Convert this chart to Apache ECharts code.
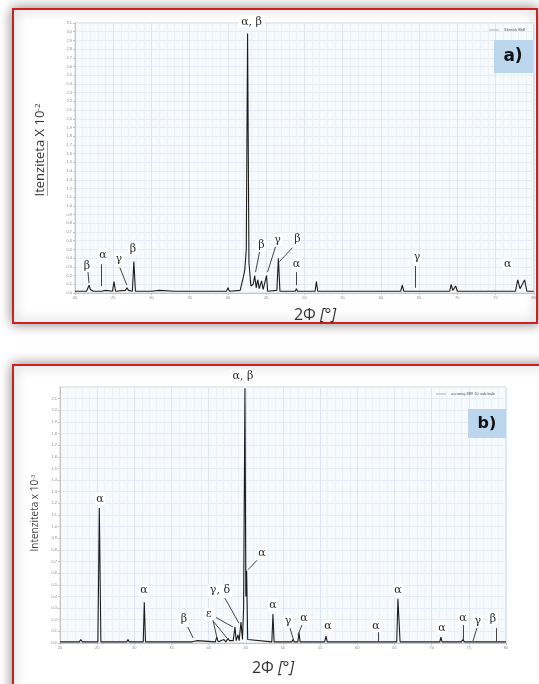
<!DOCTYPE html>
<html><head><meta charset="utf-8">
<script src="https://cdn.jsdelivr.net/npm/echarts/dist/echarts.min.js"></script>
<style>html,body{margin:0;padding:0;background:#fff}#c{width:539px;height:684px}</style>
</head><body><div id="c"></div>
<script>
// ---- Panel a: pattern (2θ, intensity x10^-2)
const patternA = [
 [20.0,0.02],[21.5,0.02],[21.7,0.02],[21.85,0.09],[22.0,0.04],[22.2,0.06],[22.4,0.02],
 [23.5,0.02],[24.0,0.03],[24.9,0.02],[25.1,0.13],[25.3,0.02],[26.6,0.03],[26.8,0.06],[27.0,0.03],
 [27.5,0.02],[27.7,0.36],[27.9,0.02],[30.0,0.02],[31.0,0.03],[33.0,0.02],[35.8,0.02],[35.9,0.04],
 [36.0,0.02],[38.0,0.02],[39.8,0.02],[40.0,0.06],[40.2,0.02],[41.6,0.03],[42.0,0.18],[42.2,0.26],
 [42.4,0.5],[42.57,2.98],[42.75,0.35],[43.0,0.08],[43.3,0.1],[43.5,0.2],[43.7,0.06],[43.9,0.15],
 [44.1,0.05],[44.4,0.14],[44.6,0.04],[45.05,0.2],[45.2,0.02],[46.4,0.03],[46.6,0.4],[46.8,0.02],
 [48.8,0.02],[48.96,0.05],[49.1,0.02],[51.4,0.02],[51.57,0.13],[51.75,0.02],[55.0,0.02],[58.0,0.02],
 [62.6,0.02],[62.8,0.09],[63.0,0.02],[64.4,0.02],[64.5,0.04],[64.7,0.02],[69.0,0.02],[69.2,0.1],
 [69.4,0.03],[69.8,0.08],[70.0,0.02],[74.0,0.02],[77.6,0.02],[77.9,0.15],[78.2,0.05],[78.8,0.15],
 [79.1,0.02],[80.0,0.02]
];
// phase labels: [text, 2θ, intensity]
const labelsA = [
 ['β',21.57,0.31],['α',23.65,0.44],['γ',25.74,0.39],['β',27.57,0.505],
 ['β',44.39,0.55],['γ',46.48,0.61],['β',49.09,0.62],['α',48.96,0.33],
 ['γ',64.74,0.41],['α',76.6,0.33]
];
const topLabelA = ['α, β', 43.09];
// pointer lines: [x1,y1,x2,y2]
const pointersA = [
 [21.7,0.24,21.83,0.115],[23.39,0.33,23.39,0.08],[25.87,0.29,26.78,0.09],
 [44.13,0.47,43.61,0.24],[46.22,0.53,45.18,0.24],[48.44,0.52,46.74,0.36],
 [48.96,0.24,48.96,0.09],[64.48,0.31,64.48,0.06]
];
const seriesNameA = 'Skrnivk 8b8';

// ---- Panel b
const patternB = [
 [20.0,0.01],[22.6,0.01],[22.8,0.03],[23.0,0.01],[25.1,0.01],[25.29,1.16],[25.5,0.01],
 [29.0,0.01],[29.15,0.03],[29.3,0.01],[31.2,0.01],[31.34,0.35],[31.5,0.01],[37.8,0.01],
 [37.9,0.02],[38.4,0.02],[38.6,0.01],[40.9,0.01],[41.08,0.05],[41.3,0.01],[42.06,0.03],
 [42.3,0.01],[42.6,0.04],[42.8,0.02],[43.0,0.03],[43.3,0.02],[43.54,0.14],[43.7,0.02],
 [43.94,0.07],[44.1,0.02],[44.35,0.18],[44.55,0.03],[44.7,0.3],[44.88,2.19],[45.0,0.4],
 [45.11,0.62],[45.25,0.03],[48.5,0.01],[48.65,0.25],[48.8,0.01],[51.2,0.01],[51.34,0.03],
 [51.5,0.01],[52.0,0.01],[52.15,0.09],[52.3,0.01],[55.6,0.01],[55.78,0.06],[55.95,0.01],
 [62.6,0.01],[62.77,0.015],[62.9,0.01],[65.3,0.01],[65.46,0.38],[65.6,0.2],[65.75,0.01],
 [71.1,0.01],[71.24,0.05],[71.4,0.01],[74.0,0.01],[74.2,0.03],[74.4,0.01],[75.6,0.01],
 [75.8,0.02],[76.0,0.01],[80.0,0.01]
];
const labelsB = [
 ['α',25.38,1.24],['α',31.3,0.45],['β',36.68,0.205],['ε',40.04,0.25],['γ, δ',41.52,0.45],
 ['α',47.17,0.77],['α',48.65,0.325],['γ',50.67,0.19],['α',52.82,0.21],['α',56.05,0.145],
 ['α',62.5,0.145],['α',65.46,0.45],['α',71.38,0.128],['α',74.2,0.21],['γ',76.22,0.19],
 ['β',78.24,0.205]
];
const topLabelB = ['α, β', 44.6];
const pointersB = [
 [37.2,0.137,37.9,0.043],[40.58,0.196,41.12,0.043],[40.71,0.18,42.46,0.043],
 [40.98,0.22,43.27,0.137],[42.19,0.385,44.08,0.17],[46.5,0.71,45.29,0.63],
 [50.94,0.128,51.47,0.017],[52.55,0.154,52.0,0.068],[62.77,0.094,62.77,0.017],
 [74.2,0.154,74.2,0.026],[76.09,0.128,75.55,0.017],[78.64,0.128,78.64,0.017]
];
const seriesNameB = 'aurumaj 889 10 sub bale';

const X_MIN = 20, X_MAX = 80, X_STEP = 5;
const Y_MAX_A = 3.1, Y_MAX_B = 2.2, Y_STEP = 0.1;

const chart = echarts.init(document.getElementById('c'), null, {renderer:'canvas'});
const serif = "'DejaVu Serif', 'Liberation Serif', serif";
const sans = "'Open Sans', 'Liberation Sans', sans-serif";

function xAxisCfg(gi){
  return {
    gridIndex: gi, type:'value', min:X_MIN, max:X_MAX, interval:X_STEP,
    axisLine:{show:true, lineStyle:{color:'#c4c4c4', width:1}},
    axisTick:{show:true, length:2, lineStyle:{color:'#c4c4c4'}},
    axisLabel:{fontSize:4, color:'#8a8a8a', margin:3, formatter:v=>String(Math.round(v))},
    splitLine:{show:true, lineStyle:{color:'#dce5f0', width:1}},
    minorTick:{show:false, splitNumber:5},
    minorSplitLine:{show:true, lineStyle:{color:'#ecf1f7', width:1}}
  };
}
function yAxisCfg(gi, max){
  return {
    gridIndex: gi, type:'value', min:0, max:max, interval:Y_STEP,
    axisLine:{show:true, lineStyle:{color:'#c4c4c4'}},
    axisTick:{show:true, length:2, lineStyle:{color:'#c4c4c4'}},
    axisLabel:{fontSize:4, color:'#8a8a8a', margin:3, formatter:v=>v.toFixed(1), showMaxLabel: gi===0},
    splitLine:{show:true, lineStyle:{color:'#e5ecf5', width:1}}
  };
}
function seriesCfg(name, gi, data, labels, top, pointers, ymax, topOffset){
  const mp = labels.map(([t,x,y]) => ({name:t, coord:[x,y], symbolSize:[t.length>1?24:10,12]}));
  mp.push({name:top[0], coord:[top[1], ymax], symbolSize:[26,13], symbolOffset:[0,topOffset]});
  return {
    name, type:'line', xAxisIndex:gi, yAxisIndex:gi, data, showSymbol:false, symbol:'none',
    itemStyle:{color:'#1c1c1c'},
    lineStyle:{color:'#1c1c1c', width:1.1}, z:3,
    markPoint:{
      symbol:'rect', itemStyle:{color:'#ffffff'}, silent:true, animation:false,
      label:{show:true, position:'inside', formatter:'{b}', color:'#2a2a2a', fontSize:11, fontFamily:serif},
      data: mp
    },
    markLine:{
      symbol:['none','none'], silent:true, animation:false,
      label:{show:false}, lineStyle:{color:'#444', width:1, type:'solid'},
      emphasis:{disabled:true},
      data: pointers.map(([x1,y1,x2,y2]) => [{coord:[x1,y1]},{coord:[x2,y2]}])
    }
  };
}

const legendCommon = {itemWidth:10, itemHeight:4, itemGap:2, padding:0, icon:'rect',
  itemStyle:{color:'#b0b0b0'}, textStyle:{fontSize:4, color:'#555'}};

const option = {
  animation:false,
  backgroundColor:'#ffffff',
  grid:[
    {left:75, top:23, width:460, height:270, show:true, backgroundColor:'#f7fafd', borderColor:'#d2d2d2', borderWidth:1, containLabel:false},
    {left:60, top:387, width:446, height:256, show:true, backgroundColor:'#f7fafd', borderColor:'#d2d2d2', borderWidth:1, containLabel:false}
  ],
  xAxis:[xAxisCfg(0), xAxisCfg(1)],
  yAxis:[yAxisCfg(0, Y_MAX_A), yAxisCfg(1, Y_MAX_B)],
  legend:[
    Object.assign({data:[seriesNameA], left:489, top:28, itemHeight:1}, legendCommon, {itemHeight:1}),
    Object.assign({data:[seriesNameB], left:436, top:392}, legendCommon, {itemHeight:1})
  ],
  series:[
    seriesCfg(seriesNameA, 0, patternA, labelsA, topLabelA, pointersA, Y_MAX_A, -1),
    seriesCfg(seriesNameB, 1, patternB, labelsB, topLabelB, pointersB, Y_MAX_B, -11)
  ],
  graphic:[
    {type:'rect', z:-10, shape:{x:13, y:9, width:524, height:314},
     style:{fill:'#fff', stroke:'#cf1f1f', lineWidth:2, shadowBlur:12, shadowColor:'rgba(0,0,0,0.45)'}},
    {type:'rect', z:-10, shape:{x:13, y:365, width:560, height:340},
     style:{fill:'#fff', stroke:'#cf1f1f', lineWidth:2, shadowBlur:12, shadowColor:'rgba(0,0,0,0.45)'}},
    {type:'rect', z:10, shape:{x:494, y:40, width:39, height:33}, style:{fill:'#bcd6ee'}},
    {type:'text', z:11, x:513, y:57, style:{text:'a)', fontSize:17, fontWeight:'bold', fontFamily:"'DejaVu Sans', sans-serif", fill:'#111', align:'center', verticalAlign:'middle'}},
    {type:'rect', z:10, shape:{x:468, y:409, width:38, height:29}, style:{fill:'#bcd6ee'}},
    {type:'text', z:11, x:487, y:424, style:{text:'b)', fontSize:16, fontWeight:'bold', fontFamily:"'DejaVu Sans', sans-serif", fill:'#111', align:'center', verticalAlign:'middle'}},
    {type:'text', z:11, x:40, y:150, rotation:Math.PI/2,
     style:{text:'Itenziteta X 10{s|-2}', fontSize:13, fontFamily:sans, fill:'#333', align:'center', verticalAlign:'middle',
       rich:{s:{fontSize:8, verticalAlign:'top', fontFamily:sans, fill:'#333'}}}},
    {type:'line', z:11, shape:{x1:47.5, y1:141, x2:47.5, y2:196}, style:{stroke:'#e58a8a', lineWidth:1}},
    {type:'text', z:11, x:35, y:513, rotation:Math.PI/2,
     style:{text:'Intenziteta x 10{s|-3}', fontSize:10, fontFamily:sans, fill:'#444', align:'center', verticalAlign:'middle',
       rich:{s:{fontSize:6, verticalAlign:'top', fontFamily:sans, fill:'#444'}}}},
    {type:'text', z:11, x:315, y:315,
     style:{text:'{n|2Φ }{i|[°]}', fill:'#333', align:'center', verticalAlign:'middle', fontSize:16,
       rich:{n:{fontSize:16, fontFamily:sans, fill:'#333'}, i:{fontSize:16, fontStyle:'italic', fontFamily:sans, fill:'#333'}}}},
    {type:'text', z:11, x:273, y:668,
     style:{text:'{n|2Φ }{i|[°]}', fill:'#333', align:'center', verticalAlign:'middle', fontSize:16,
       rich:{n:{fontSize:16, fontFamily:sans, fill:'#333'}, i:{fontSize:16, fontStyle:'italic', fontFamily:sans, fill:'#333'}}}}
  ]
};
chart.setOption(option);
</script></body></html>
